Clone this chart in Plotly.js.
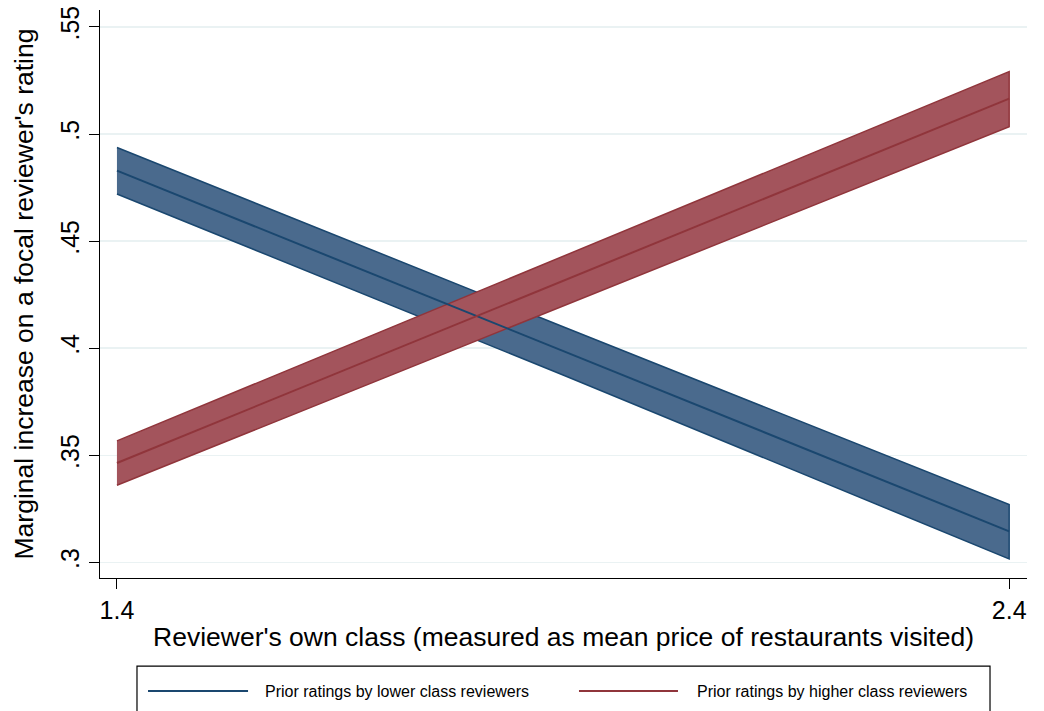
<!DOCTYPE html>
<html>
<head>
<meta charset="utf-8">
<script src="https://cdn.plot.ly/plotly-3.0.1.min.js"></script>
<style>html,body{margin:0;padding:0;background:#fff;}#chart{width:1044px;height:711px;}</style>
</head>
<body>
<div id="chart"></div>
<script>
// Data
var xClass = [1.4, 1.9, 2.4];
var lowerMean = [0.4829, 0.3987, 0.3145];
var lowerUpper = [0.4937, 0.4100, 0.3270];
var lowerLower = [0.4720, 0.3875, 0.3016];
var higherMean = [0.3464, 0.4315, 0.5165];
var higherUpper = [0.3567, 0.4429, 0.5291];
var higherLower = [0.3360, 0.4197, 0.5034];
var seriesNames = ["Prior ratings by lower class reviewers", "Prior ratings by higher class reviewers"];
var yTickVals = [0.3, 0.35, 0.4, 0.45, 0.5, 0.55];
var yTickText = [".3", ".35", ".4", ".45", ".5", ".55"];
var xTickVals = [1.4, 2.4];
var xTickText = ["1.4", "2.4"];

var blueLine = "#1a476f", blueFill = "#4a6a8d";
var redLine = "#90353b", redFill = "#a3545c";

function band(up, lo, fill, edge) {
  return {
    x: xClass.concat(xClass.slice().reverse()),
    y: up.concat(lo.slice().reverse()),
    type: "scatter", mode: "lines", fill: "toself",
    fillcolor: fill, line: {color: edge, width: 1.5},
    hoverinfo: "skip", showlegend: false
  };
}
var traces = [
  band(lowerUpper, lowerLower, blueFill, blueLine),
  band(higherUpper, higherLower, redFill, redLine),
  {x: xClass, y: lowerMean, type: "scatter", mode: "lines", line: {color: blueLine, width: 2}, name: seriesNames[0], showlegend: false},
  {x: xClass, y: higherMean, type: "scatter", mode: "lines", line: {color: redLine, width: 2}, name: seriesNames[1], showlegend: false}
];

var font = "Liberation Sans, Arial, Helvetica, sans-serif";
var layout = {
  width: 1044, height: 711,
  margin: {l: 100, r: 17, t: 10, b: 133},
  paper_bgcolor: "#ffffff", plot_bgcolor: "#ffffff",
  font: {family: font, color: "#000"},
  xaxis: {
    range: [1.381, 2.420], tickvals: xTickVals, ticktext: xTickText,
    ticks: "outside", ticklen: 10, tickcolor: "#000", tickwidth: 1,
    showline: true, linecolor: "#000", linewidth: 1.3, showgrid: false, zeroline: false,
    tickfont: {size: 25, family: font},
    title: {text: "Reviewer's own class (measured as mean price of restaurants visited)", font: {size: 26.5, family: font}, standoff: 4}
  },
  yaxis: {
    range: [0.2927, 0.5579], tickvals: yTickVals, ticktext: yTickText,
    ticks: "outside", ticklen: 10, tickcolor: "#000", tickwidth: 1, tickangle: -90,
    showline: true, linecolor: "#000", linewidth: 1.3,
    showgrid: true, gridcolor: "#eaf2f3", gridwidth: 1.5, zeroline: false,
    tickfont: {size: 25, family: font},
    title: {text: "Marginal increase on a focal reviewer's rating", font: {size: 26.5, family: font}, standoff: 14}
  },
  shapes: [
    {type: "rect", xref: "paper", yref: "paper", x0: 0.0399, x1: 0.9601, y0: -0.155, y1: -0.26, line: {color: "#000", width: 1.2}, fillcolor: "rgba(0,0,0,0)"},
    {type: "line", xref: "paper", yref: "paper", x0: 0.0518, x1: 0.1597, y0: -0.199, y1: -0.199, line: {color: blueLine, width: 2}},
    {type: "line", xref: "paper", yref: "paper", x0: 0.5167, x1: 0.6235, y0: -0.199, y1: -0.199, line: {color: redLine, width: 2}}
  ],
  annotations: [
    {xref: "paper", yref: "paper", x: 0.1758, y: -0.199, xanchor: "left", yanchor: "middle", showarrow: false, text: seriesNames[0], font: {size: 16, family: font, color: "#000"}},
    {xref: "paper", yref: "paper", x: 0.6419, y: -0.199, xanchor: "left", yanchor: "middle", showarrow: false, text: seriesNames[1], font: {size: 16, family: font, color: "#000"}}
  ],
  showlegend: false
};
Plotly.newPlot("chart", traces, layout, {displayModeBar: false, staticPlot: true});
</script>
</body>
</html>
